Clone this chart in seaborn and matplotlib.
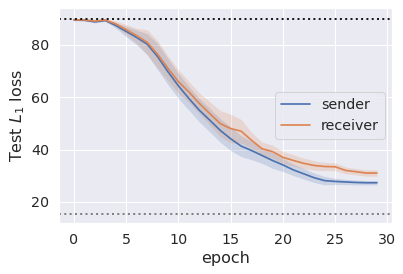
import numpy as np
import pandas as pd
import matplotlib
matplotlib.use("Agg")
import matplotlib.pyplot as plt
import seaborn as sns

epochs = list(range(30))

# mean test loss per epoch
sender_mean = [89.5, 89.4, 88.8, 89.3, 87.4, 85.1, 82.8, 80.3, 75.5, 69.7,
               64.3, 59.5, 55.0, 51.2, 47.3, 44.1, 41.3, 39.6, 37.7, 35.8,
               34.1, 32.2, 30.7, 29.2, 28.1, 27.8, 27.6, 27.4, 27.3, 27.3]
receiver_mean = [89.6, 89.5, 89.1, 89.5, 88.0, 85.8, 83.5, 81.0, 76.4, 71.0,
                 65.9, 62.0, 57.6, 53.7, 49.9, 48.0, 47.0, 43.5, 40.3, 39.2,
                 37.0, 35.8, 34.7, 33.9, 33.5, 33.4, 32.0, 31.5, 31.0, 31.0]

# half-width of the confidence band
sender_ci = [0.3, 0.3, 0.4, 0.4, 1.0, 2.0, 2.8, 4.0, 5.0, 5.0,
             4.8, 4.5, 4.5, 4.5, 4.5, 4.5, 4.0, 3.5, 3.0, 3.0,
             2.5, 2.2, 2.0, 1.8, 1.6, 1.2, 1.0, 0.9, 0.8, 0.8]
receiver_ci = [0.3, 0.3, 0.4, 0.4, 1.0, 2.0, 2.8, 4.8, 5.2, 4.8,
               4.5, 4.0, 4.0, 4.5, 5.0, 5.5, 4.5, 3.0, 2.5, 2.5,
               2.3, 2.2, 2.0, 1.8, 1.6, 1.5, 1.3, 1.2, 1.2, 1.2]

upper_baseline = 90.0
lower_baseline = 15.5

df = pd.concat([
    pd.DataFrame({'epoch': epochs, 'loss': sender_mean, 'ci': sender_ci, 'agent': 'sender'}),
    pd.DataFrame({'epoch': epochs, 'loss': receiver_mean, 'ci': receiver_ci, 'agent': 'receiver'}),
])

sns.set_theme(style='darkgrid', font_scale=1.3)
pal = sns.color_palette('deep')

fig = plt.figure(figsize=(403 / 72, 274 / 72), dpi=72)
ax = fig.add_axes([0.146, 0.186, 0.827, 0.785])

sns.lineplot(data=df, x='epoch', y='loss', hue='agent', palette=pal[:2],
             errorbar=None, linewidth=1.7, ax=ax)
for i, (name, g) in enumerate(df.groupby('agent', sort=False)):
    ax.fill_between(g['epoch'], g['loss'] - g['ci'], g['loss'] + g['ci'],
                    color=pal[i], alpha=0.2, linewidth=0)

ax.axhline(upper_baseline, color='k', ls=':', lw=2)
ax.axhline(lower_baseline, color='gray', ls=':', lw=2)

ax.set_xlim(-1.45, 30.45)
ax.set_ylim(11.9, 94.1)
ax.set_xticks([0, 5, 10, 15, 20, 25, 30])
ax.set_yticks([20, 40, 60, 80])
ax.set_xlabel('epoch', fontsize=16)
ax.set_ylabel('Test $L_1$ loss', fontsize=16)
ax.legend(loc='center right', title=None)

fig.savefig('out.png', dpi=72)
